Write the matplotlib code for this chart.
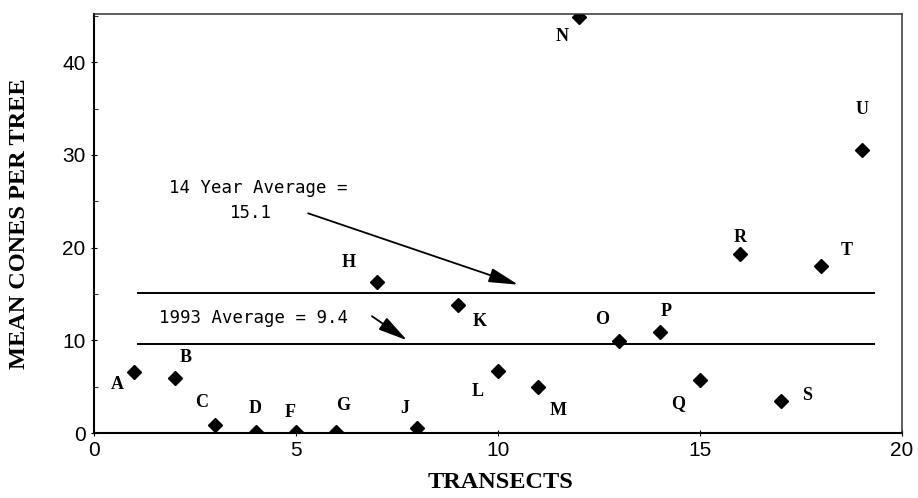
import matplotlib
matplotlib.use("Agg")
import matplotlib.pyplot as plt
from matplotlib.ticker import MultipleLocator

# transect number, mean cones per tree, transect letter
transectos = [1, 2, 3, 4, 5, 6, 7, 8, 9, 10, 11, 12, 13, 14, 15, 16, 17, 18, 19]
cones = [6.6, 5.9, 0.9, 0.1, 0.1, 0.1, 16.3, 0.5, 13.8, 6.7, 5.0, 44.9,
         9.9, 10.9, 5.7, 19.3, 3.45, 18.0, 30.5]
letras = ["A", "B", "C", "D", "F", "G", "H", "J", "K", "L", "M", "N",
          "O", "P", "Q", "R", "S", "T", "U"]

media_14_anos = 15.1
media_1993 = 9.6
linha_x = [1.1, 19.3]

# label offsets (points) relative to each marker
OFFSETS = {
    "A": (-12, -9), "B": (8, 15), "C": (-10, 16), "D": (0, 17), "F": (-4, 14),
    "G": (5, 19), "H": (-20, 14), "J": (-9, 14), "K": (16, -12), "L": (-15, -15),
    "M": (14, -17), "N": (-12, -14), "O": (-12, 16), "P": (5, 15), "Q": (-16, -17),
    "R": (0, 12), "S": (19, 4), "T": (18, 11), "U": (0, 29),
}

SERIF = "Liberation Serif"
MONO = "DejaVu Sans Mono"

fig = plt.figure(figsize=(9.18, 4.98), dpi=100)
ax = fig.add_axes([0.1024, 0.1305, 0.8802, 0.8414])

ax.plot(transectos, cones, linestyle="none", marker="D", markersize=7,
        color="black")

for x, y, letra in zip(transectos, cones, letras):
    ax.annotate(letra, (x, y), xytext=OFFSETS[letra], textcoords="offset points",
                ha="center", va="center", fontsize=13, fontweight="bold",
                family=SERIF, annotation_clip=False)

ax.plot(linha_x, [media_14_anos, media_14_anos], color="black", lw=1.4)
ax.plot(linha_x, [media_1993, media_1993], color="black", lw=1.4)

ax.text(4.06, 26.4, "14 Year Average =", family=MONO, fontsize=12.5,
        ha="center", va="center")
ax.text(3.89, 23.7, "15.1", family=MONO, fontsize=12.5, ha="center", va="center")
ax.text(3.94, 12.4, "1993 Average = 9.4", family=MONO, fontsize=12.5,
        ha="center", va="center")

seta = dict(arrowstyle="-|>,head_length=0.9,head_width=0.22", lw=1.3,
            color="black", mutation_scale=20, shrinkA=0, shrinkB=0)
ax.annotate("", xy=(10.5, 16.0), xytext=(5.3, 23.7), arrowprops=seta)
ax.annotate("", xy=(7.75, 10.0), xytext=(6.88, 12.6), arrowprops=seta)

ax.set_xlim(0, 20)
ax.set_ylim(0, 45.2)
ax.xaxis.set_major_locator(MultipleLocator(5))
ax.yaxis.set_major_locator(MultipleLocator(10))
ax.yaxis.set_minor_locator(MultipleLocator(5))
ax.tick_params(axis="both", which="major", direction="inout", length=4,
               width=0.8, labelsize=15, pad=4)
ax.tick_params(axis="y", which="minor", direction="in", length=3, width=0.6)
for lab in ax.get_xticklabels() + ax.get_yticklabels():
    lab.set_family("Liberation Sans")

for lado in ["left", "bottom"]:
    ax.spines[lado].set_linewidth(1.5)
for lado in ["top", "right"]:
    ax.spines[lado].set_linewidth(1.1)
    ax.spines[lado].set_color("#333333")

fig.text(0.5447, 0.032, "TRANSECTS", family=SERIF, fontweight="bold",
         fontsize=17.5, ha="center", va="center")
fig.text(0.0212, 0.551, "MEAN CONES PER TREE", family=SERIF, fontweight="bold",
         fontsize=17.5, ha="center", va="center", rotation=90)

fig.savefig("out.png", dpi=100)
